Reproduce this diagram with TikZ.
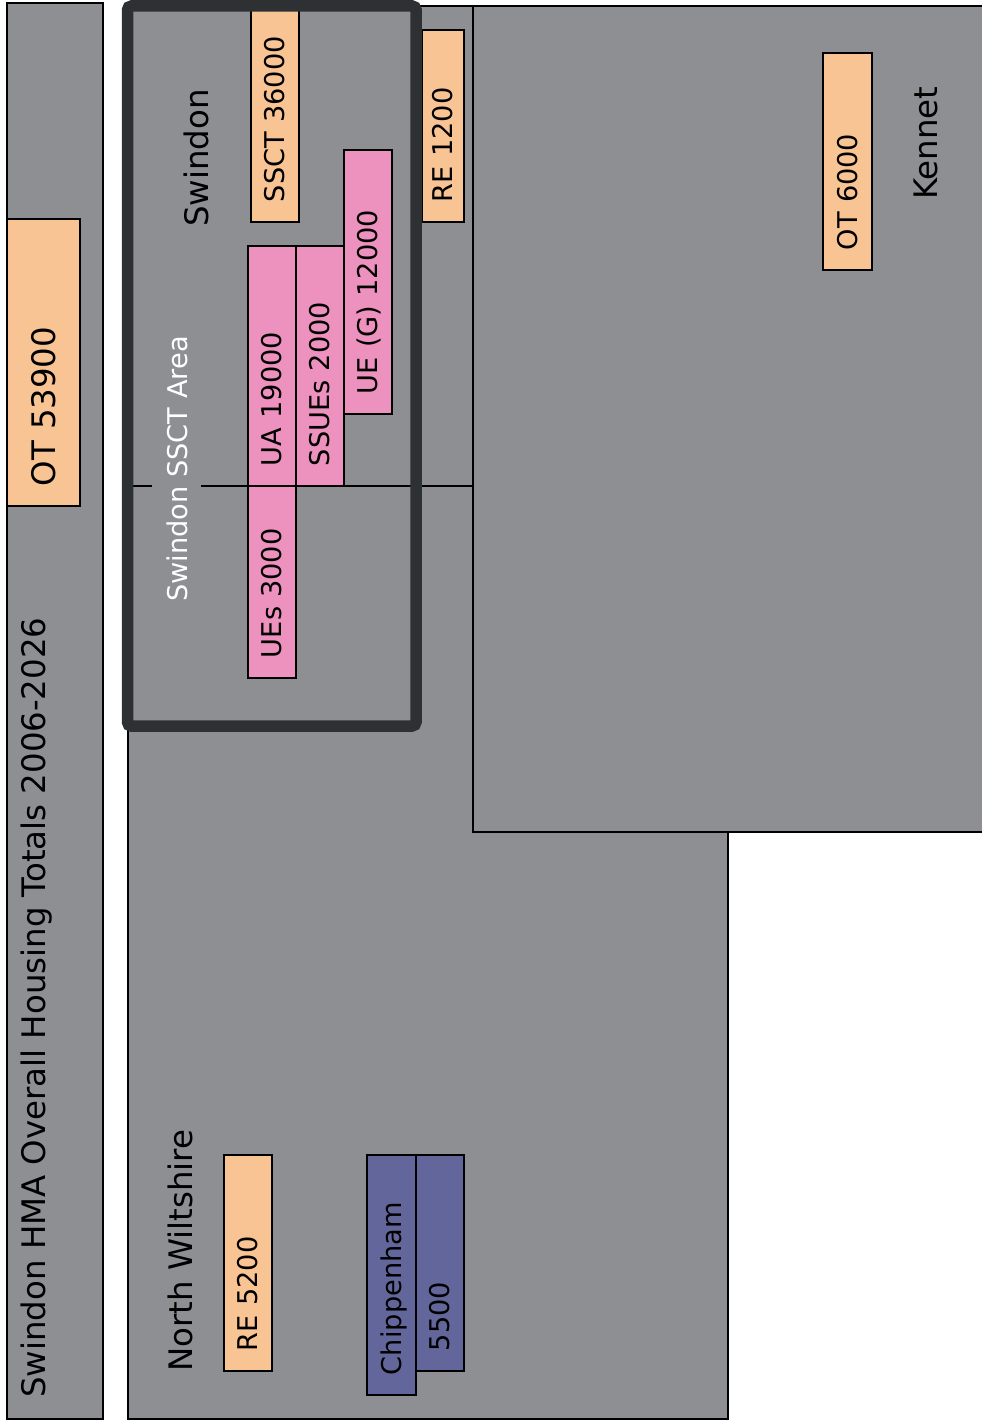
\documentclass[tikz,border=0pt]{standalone}
\usepackage{fontspec}
\setmainfont{DejaVu Sans}
\usepackage{xcolor}
\usetikzlibrary{positioning}

\definecolor{regiongray}{RGB}{142,143,147}
\definecolor{peach}{RGB}{249,196,148}
\definecolor{pinkfill}{RGB}{237,145,190}
\definecolor{chipblue}{RGB}{99,102,155}
\definecolor{ssctedge}{RGB}{46,49,52}

\newcommand{\bigtext}{\fontsize{32.4}{38}\selectfont}
\newcommand{\smalltext}{\fontsize{27.2}{32}\selectfont}

\begin{document}
\begin{tikzpicture}[
    x=1pt, y=-1pt,
    region/.style={draw=black, line width=1.5pt, fill=regiongray},
    cell/.style 2 args={
        rectangle, draw=black, line width=1.5pt, rotate=90,
        inner xsep=20pt, inner ysep=0pt, align=left,
        font=\smalltext, text height=19.8pt, text depth=0pt,
        minimum width=#1pt, text width={#1pt-40pt}, minimum height=#2pt
    },
    bigcell/.style 2 args={cell={#1}{#2}, font=\bigtext, text height=23.6pt},
    areatitle/.style={rotate=90, anchor=base west, inner sep=0pt, font=\bigtext}
]
\useasboundingbox (0,0) rectangle (982,1421);

% areas
\draw[region] (7,3) rectangle (103,1419);
\draw[region] (128,486) -- (473,486) -- (473,832) -- (728,832) -- (728,1419) -- (128,1419) -- cycle;
\draw[region] (128,6) rectangle (473,486);
\draw[region] (473,6) rectangle (990,832);

% totals
\node[bigcell={287}{73}, fill=peach] (ot) at (43.5,362.5) {OT 53900};
\node[cell={212}{48}, fill=peach] (ssct) at (275,116) {SSCT 36000};
\node[cell={192}{42}, fill=peach] (re1) at (443,126) {RE 1200};
\node[cell={217}{49}, fill=peach] (ot2) at (847.5,161.5) {OT 6000};
\node[cell={216}{48}, fill=peach] (re2) at (248,1263) {RE 5200};

% swindon urban extensions
\node[cell={240}{48}, fill=pinkfill] (ua) at (272,366) {UA 19000};
\node[cell={240}{48}, fill=pinkfill] (ssues) at (320,366) {SSUEs 2000};
\node[cell={264}{48}, fill=pinkfill] (ueg) at (368,282) {UE (G) 12000};
\node[cell={192}{48}, fill=pinkfill] (ues) at (272,582) {UEs 3000};

% chippenham
\node[cell={240}{49}, fill=chipblue] (chip) at (391.5,1275) {Chippenham};
\node[cell={216}{48}, fill=chipblue] (chipn) at (440,1263) {5500};

% SSCT boundary
\draw[line width=11.5pt, draw=ssctedge, rounded corners=4pt] (127.5,6) rectangle (416,726);

% labels
\node[areatitle] (title) at (45,1398) {Swindon HMA Overall Housing Totals 2006-2026};
\node[areatitle] (swindon) at (208,227) {Swindon};
\node[areatitle] (kennet) at (937,200) {Kennet};
\node[areatitle] (nwilts) at (192,1372) {North Wiltshire};
\node[areatitle, font=\smalltext, text=white, fill=regiongray, inner ysep=14pt] (ssctarea) at (187,602) {Swindon SSCT Area};
\end{tikzpicture}
\end{document}
